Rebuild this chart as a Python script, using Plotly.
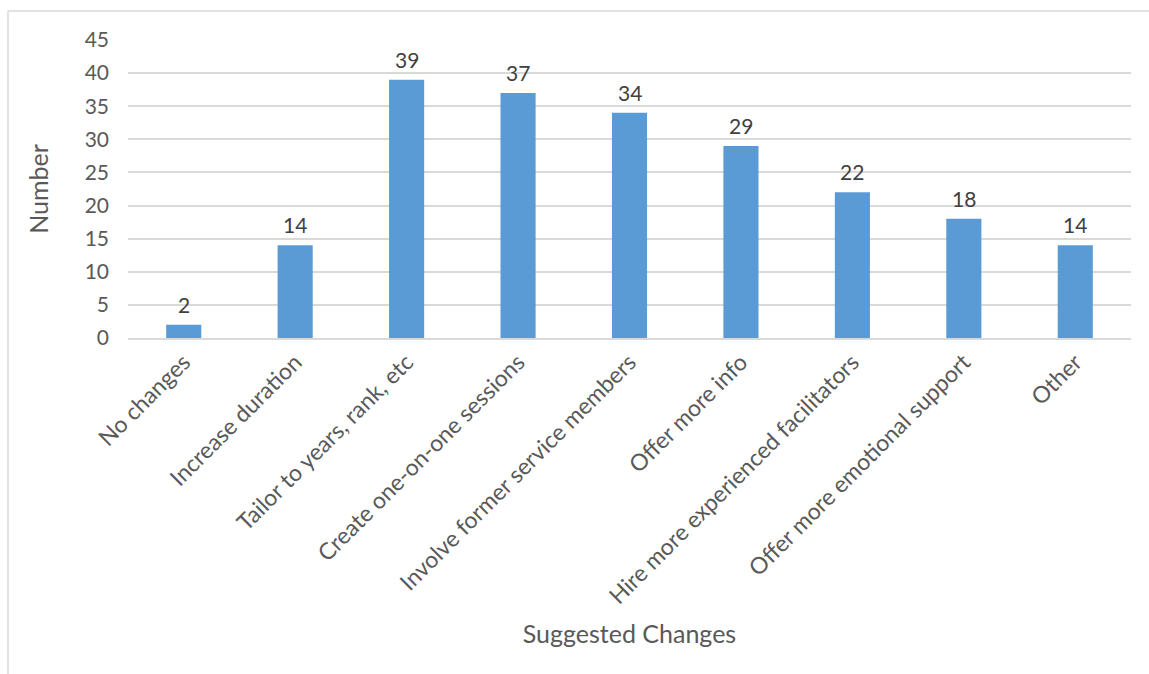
import plotly.graph_objects as go

categories = [
    "No changes",
    "Increase duration",
    "Tailor to years, rank, etc",
    "Create one-on-one sessions",
    "Involve former service members",
    "Offer more info",
    "Hire more experienced facilitators",
    "Offer more emotional support",
    "Other",
]
counts = [2, 14, 39, 37, 34, 29, 22, 18, 14]
y_ticks = [0, 5, 10, 15, 20, 25, 30, 35, 40, 45]

FONT = "Lato, 'Open Sans', sans-serif"
W, H = 1149, 674
L, R, T, B = 128, 18, 40, 336

fig = go.Figure(
    go.Bar(
        x=categories,
        y=counts,
        width=0.315,
        marker=dict(color="#5B9BD5", line=dict(width=0)),
        hoverinfo="x+y",
    )
)

# value labels above each bar
for c, v in zip(categories, counts):
    fig.add_annotation(
        x=c, y=v, xref="x", yref="y",
        text=str(v), showarrow=False,
        yanchor="bottom", yshift=6,
        font=dict(family=FONT, size=21, color="#404040"),
    )

# frame line (left and top edges of the chart box)
pw, ph = W - L - R, H - T - B
def px(x):
    return (x - L) / pw
def py(y):
    return (H - B - y) / ph

fig.add_shape(type="line", xref="paper", yref="paper",
              x0=px(8), x1=px(W + 5), y0=py(11), y1=py(11),
              line=dict(color="#D9D9D9", width=1.5))
fig.add_shape(type="line", xref="paper", yref="paper",
              x0=px(8), x1=px(8), y0=py(11), y1=py(H + 5),
              line=dict(color="#D9D9D9", width=1.5))

fig.update_layout(
    width=W,
    height=H,
    margin=dict(l=L, r=R, t=T, b=B),
    paper_bgcolor="white",
    plot_bgcolor="white",
    showlegend=False,
    font=dict(family=FONT, color="#595959", size=20),
    xaxis=dict(
        automargin=False,
        tickangle=-45,
        tickfont=dict(family=FONT, size=23, color="#595959"),
        showgrid=False,
        showline=True,
        linecolor="#D9D9D9",
        linewidth=1.5,
        ticks="",
        title=dict(text="Suggested Changes", font=dict(family=FONT, size=25, color="#595959"),
                   standoff=17),
    ),
    yaxis=dict(
        automargin=False,
        range=[0, 45],
        tickvals=y_ticks,
        tickfont=dict(family=FONT, size=21, color="#595959"),
        ticklabelstandoff=18,
        showgrid=True,
        gridcolor="#D9D9D9",
        gridwidth=1.5,
        zeroline=False,
        ticks="",
        ticklen=0,
        title=dict(text="Number", font=dict(family=FONT, size=25, color="#595959"),
                   standoff=28),
    ),
)

fig.write_html("out.html")
